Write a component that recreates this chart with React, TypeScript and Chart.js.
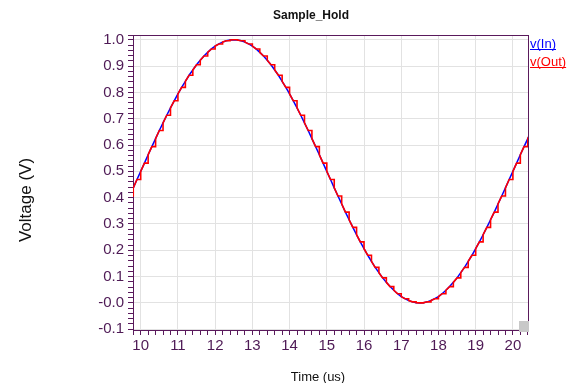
import React, { useEffect, useRef } from "react";
import { Chart, registerables } from "chart.js";

Chart.register(...registerables);

const chartTitle = "Sample_Hold";
const xTitle = "Time (us)";
const yTitle = "Voltage (V)";
const seriesNames = ["v(In)", "v(Out)"];

// time axis samples (us)
const timeUs = [
  9.6, 9.7, 9.8, 9.9,
  10.0, 10.1, 10.2, 10.3, 10.4, 10.5, 10.6, 10.7, 10.8, 10.9,
  11.0, 11.1, 11.2, 11.3, 11.4, 11.5, 11.6, 11.7, 11.8, 11.9,
  12.0, 12.1, 12.2, 12.3, 12.4, 12.5, 12.6, 12.7, 12.8, 12.9,
  13.0, 13.1, 13.2, 13.3, 13.4, 13.5, 13.6, 13.7, 13.8, 13.9,
  14.0, 14.1, 14.2, 14.3, 14.4, 14.5, 14.6, 14.7, 14.8, 14.9,
  15.0, 15.1, 15.2, 15.3, 15.4, 15.5, 15.6, 15.7, 15.8, 15.9,
  16.0, 16.1, 16.2, 16.3, 16.4, 16.5, 16.6, 16.7, 16.8, 16.9,
  17.0, 17.1, 17.2, 17.3, 17.4, 17.5, 17.6, 17.7, 17.8, 17.9,
  18.0, 18.1, 18.2, 18.3, 18.4, 18.5, 18.6, 18.7, 18.8, 18.9,
  19.0, 19.1, 19.2, 19.3, 19.4, 19.5, 19.6, 19.7, 19.8, 19.9,
  20.0, 20.1, 20.2, 20.3, 20.4, 20.5, 20.6,
];

// v(In) values (V) at timeUs
const vIn = [
  0.376, 0.406, 0.437, 0.469,
  0.500, 0.531, 0.563, 0.594, 0.624, 0.655, 0.684, 0.713, 0.741, 0.768,
  0.794, 0.819, 0.842, 0.865, 0.885, 0.905, 0.922, 0.938, 0.952, 0.965,
  0.976, 0.984, 0.991, 0.996, 0.999, 1.000, 0.999, 0.996, 0.991, 0.984,
  0.976, 0.965, 0.952, 0.938, 0.922, 0.905, 0.885, 0.865, 0.842, 0.819,
  0.794, 0.768, 0.741, 0.713, 0.684, 0.655, 0.624, 0.594, 0.563, 0.531,
  0.500, 0.469, 0.437, 0.406, 0.376, 0.345, 0.316, 0.287, 0.259, 0.232,
  0.206, 0.181, 0.158, 0.135, 0.115, 0.095, 0.078, 0.062, 0.048, 0.035,
  0.024, 0.016, 0.009, 0.004, 0.001, 0.000, 0.001, 0.004, 0.009, 0.016,
  0.024, 0.035, 0.048, 0.062, 0.078, 0.095, 0.115, 0.135, 0.158, 0.181,
  0.206, 0.232, 0.259, 0.287, 0.316, 0.345, 0.376, 0.406, 0.437, 0.469,
  0.500, 0.531, 0.563, 0.594, 0.624, 0.655, 0.684,
];

// v(Out) held levels, one per 0.2 us sample period (starting at 9.6 us)
const vOutHeld = [
  0.406, 0.469, 0.531, 0.594, 0.655, 0.713, 0.768, 0.819, 0.865, 0.905,
  0.938, 0.965, 0.984, 0.996, 1.000, 0.996, 0.984, 0.965, 0.938, 0.905,
  0.865, 0.819, 0.768, 0.713, 0.655, 0.594, 0.531, 0.469, 0.406, 0.345,
  0.287, 0.232, 0.181, 0.135, 0.095, 0.062, 0.035, 0.016, 0.004, 0.000,
  0.004, 0.016, 0.035, 0.062, 0.095, 0.135, 0.181, 0.232, 0.287, 0.345,
  0.406, 0.469, 0.531, 0.594, 0.655,
];

const xMajorTicks = [10, 11, 12, 13, 14, 15, 16, 17, 18, 19, 20];
const xTickLabels = ["10", "11", "12", "13", "14", "15", "16", "17", "18", "19", "20"];
const yMajorTicks = [-0.1, 0.0, 0.1, 0.2, 0.3, 0.4, 0.5, 0.6, 0.7, 0.8, 0.9, 1.0];
const yTickLabels = ["-0.1", "-0.0", "0.1", "0.2", "0.3", "0.4", "0.5", "0.6", "0.7", "0.8", "0.9", "1.0"];

const X_MIN = 9.793;
const X_MAX = 20.406;
const Y_MIN = -0.103;
const Y_MAX = 1.018;
const X_MINOR = 0.2;
const Y_MINOR = 0.02;

const PURPLE = "#5a1a5c";
const LABEL = "#4e1a55";
const GRID = "#e2e2e2";
const FONT = "'Liberation Sans', Arial, sans-serif";

function findMajor(v: number, majors: number[]) {
  for (let i = 0; i < majors.length; i++) if (Math.abs(majors[i] - v) < 1e-6) return i;
  return -1;
}

function buildTicks(min: number, max: number, start: number, step: number) {
  const out: { value: number }[] = [];
  for (let k = 0; ; k++) {
    const v = Math.round((start + k * step) * 1000) / 1000;
    if (v > max + 1e-9) break;
    if (v >= min - 1e-9) out.push({ value: v });
  }
  return out;
}

export default function App() {
  const ref = useRef<HTMLCanvasElement | null>(null);

  useEffect(() => {
    document.body.style.margin = "0";
    const canvas = ref.current;
    if (!canvas) return;

    const inPts = timeUs.map((t, i) => ({ x: t, y: vIn[i] }));
    const outPts: { x: number; y: number }[] = [];
    for (let k = 0; k < vOutHeld.length; k++) {
      const i = 2 * k;
      outPts.push({ x: timeUs[i], y: vIn[i] });
      outPts.push({ x: timeUs[i + 1], y: vOutHeld[k] });
      outPts.push({ x: timeUs[i + 2], y: vOutHeld[k] });
    }

    const deco = {
      id: "deco",
      afterDraw(chart: any) {
        const c = chart.ctx;
        const a = chart.chartArea;
        c.save();
        c.strokeStyle = PURPLE;
        c.lineWidth = 1;
        c.beginPath();
        c.moveTo(a.left - 5, a.top + 0.5);
        c.lineTo(a.right + 0.5, a.top + 0.5);
        c.moveTo(a.right + 0.5, a.top);
        c.lineTo(a.right + 0.5, a.bottom - 9);
        c.stroke();
        c.fillStyle = "#c8c8c8";
        c.fillRect(a.right - 9, a.bottom - 9, 10, 11);

        c.fillStyle = "#111";
        c.font = `bold 12px ${FONT}`;
        c.textAlign = "center";
        c.textBaseline = "middle";
        c.fillText(chartTitle, 311, 16);

        c.font = `13px ${FONT}`;
        c.fillText(xTitle, 318, 377);

        c.save();
        c.translate(26, 200);
        c.rotate(-Math.PI / 2);
        c.font = `17px ${FONT}`;
        c.fillText(yTitle, 0, 0);
        c.restore();

        const colors = ["#0000ff", "#ff0000"];
        const baselines = [48, 66];
        c.font = `13px ${FONT}`;
        c.textAlign = "left";
        c.textBaseline = "alphabetic";
        for (let i = 0; i < seriesNames.length; i++) {
          c.fillStyle = colors[i];
          c.fillText(seriesNames[i], 530, baselines[i]);
          const w = c.measureText(seriesNames[i]).width;
          c.fillRect(530, baselines[i] + 1, w, 1);
        }
        c.restore();
      },
    };

    const chart = new Chart(canvas, {
      type: "line",
      data: {
        datasets: [
          {
            label: seriesNames[0],
            data: inPts,
            borderColor: "#0000ff",
            borderWidth: 1.5,
            pointRadius: 0,
            tension: 0,
            order: 1,
          },
          {
            label: seriesNames[1],
            data: outPts,
            borderColor: "#ff0000",
            borderWidth: 1.6,
            pointRadius: 0,
            tension: 0,
            order: 0,
          },
        ],
      },
      options: {
        responsive: false,
        animation: false,
        devicePixelRatio: 1,
        parsing: false,
        layout: { padding: { left: 0, top: 35, right: 42, bottom: 0 } },
        plugins: {
          legend: { display: false },
          title: { display: false },
          tooltip: { enabled: false },
        },
        scales: {
          x: {
            type: "linear",
            min: X_MIN,
            max: X_MAX,
            afterBuildTicks: (s: any) => {
              s.ticks = buildTicks(X_MIN, X_MAX, 9.8, X_MINOR);
            },
            afterFit: (s: any) => {
              s.height = 53;
            },
            border: { display: true, color: PURPLE, width: 1 },
            grid: {
              color: (ctx: any) =>
                ctx.tick && findMajor(ctx.tick.value, xMajorTicks) >= 0 ? GRID : "rgba(0,0,0,0)",
              tickColor: PURPLE,
              tickLength: 5,
              drawTicks: true,
            },
            ticks: {
              autoSkip: false,
              maxRotation: 0,
              padding: 2,
              color: LABEL,
              font: { family: FONT, size: 15 },
              callback: (v: any) => {
                const i = findMajor(Number(v), xMajorTicks);
                return i >= 0 ? xTickLabels[i] : "";
              },
            },
          },
          y: {
            type: "linear",
            min: Y_MIN,
            max: Y_MAX,
            afterBuildTicks: (s: any) => {
              s.ticks = buildTicks(Y_MIN, Y_MAX, -0.1, Y_MINOR);
            },
            afterFit: (s: any) => {
              s.width = 133;
            },
            border: { display: true, color: PURPLE, width: 1 },
            grid: {
              color: (ctx: any) =>
                ctx.tick && findMajor(ctx.tick.value, yMajorTicks) >= 0 ? GRID : "rgba(0,0,0,0)",
              tickColor: PURPLE,
              tickLength: 5,
              drawTicks: true,
            },
            ticks: {
              autoSkip: false,
              padding: 4,
              color: LABEL,
              font: { family: FONT, size: 15 },
              callback: (v: any) => {
                const i = findMajor(Number(v), yMajorTicks);
                return i >= 0 ? yTickLabels[i] : "";
              },
            },
          },
        },
      },
      plugins: [deco],
    } as any);

    return () => chart.destroy();
  }, []);

  return (
    <div style={{ width: 570, height: 383 }}>
      <canvas ref={ref} width={570} height={383} style={{ display: "block" }} />
    </div>
  );
}
